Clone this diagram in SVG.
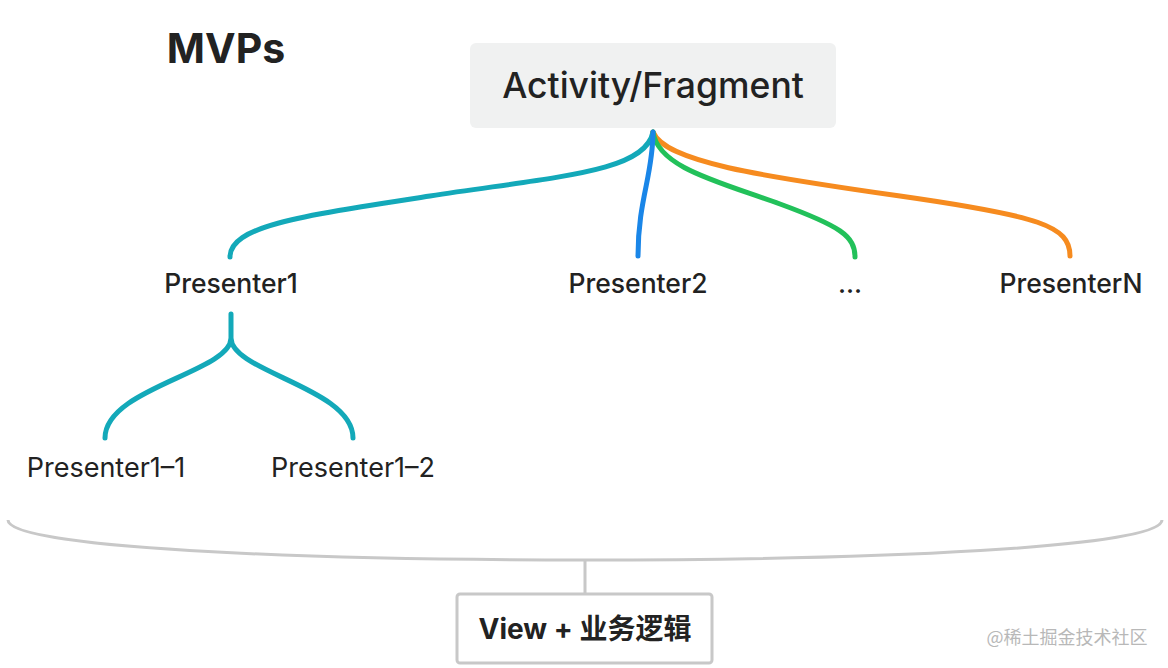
<svg xmlns="http://www.w3.org/2000/svg" width="1168" height="668" viewBox="0 0 1168 668">
<style>
.lbl{font-family:"Inter","Liberation Sans",sans-serif;fill:#222;text-anchor:middle}
.mid{font-size:26.5px;font-weight:500}
.reg{font-size:27px;font-weight:400}
.c{fill:none;stroke-width:5;stroke-linecap:round}
</style>
<rect width="1168" height="668" fill="#fff"/>
<text x="226" y="63" class="lbl" style="font-size:41px;font-weight:700">MVPs</text>
<g id="connectors">
<path class="c" stroke="#13a9b9" d="M653,132 C645,172 560,176 430,196 C300,216 230,226 230,257"/>
<path class="c" stroke="#f68b1f" d="M653,132 C665,162 760,176 900,196 C1040,216 1070,226 1070,256"/>
<path class="c" stroke="#22c15a" d="M653,132 C658,168 720,182 780,204 C840,226 855,236 855,257"/>
<path class="c" stroke="#1a86e8" d="M653,132 C653,175 638,200 638,256"/>
<path class="c" stroke="#13a9b9" d="M231,314 L231,338 C231,372 105,388 105,438 M231,338 C231,372 353,388 353,438"/>
<path fill="none" stroke="#c8c8c8" stroke-width="3" d="M8,520 C8,548 300,560 585,560 C870,560 1162,548 1162,520 M585,560 L585,594"/>
</g>
<g id="activity">
<rect x="470" y="43" width="366" height="85" rx="6" fill="#f0f1f1"/>
<text x="653" y="98" class="lbl" style="font-size:35.5px;font-weight:500">Activity/Fragment</text>
</g>
<g id="presenter1"><text x="231" y="293" class="lbl mid">Presenter1</text></g>
<g id="presenter2"><text x="638" y="293" class="lbl mid">Presenter2</text></g>
<g id="dots"><text x="850" y="293" class="lbl mid">...</text></g>
<g id="presenterN"><text x="1071" y="293" class="lbl mid">PresenterN</text></g>
<g id="presenter1-1"><text x="106" y="477" class="lbl reg">Presenter1–1</text></g>
<g id="presenter1-2"><text x="353" y="477" class="lbl reg">Presenter1–2</text></g>
<g id="view">
<rect x="457" y="594" width="255" height="69" rx="3" fill="#fff" stroke="#c8c8c8" stroke-width="3"/>
<text x="585" y="639" class="lbl" style="font-size:28px;font-weight:700;font-family:'Inter','Liberation Sans','Noto Sans CJK SC',sans-serif">View + 业务逻辑</text>
</g>
<text x="1067" y="644" style="font-family:'Noto Sans CJK SC',sans-serif;font-size:18px;fill:#b8b8b8;text-anchor:middle">@稀土掘金技术社区</text>
</svg>
